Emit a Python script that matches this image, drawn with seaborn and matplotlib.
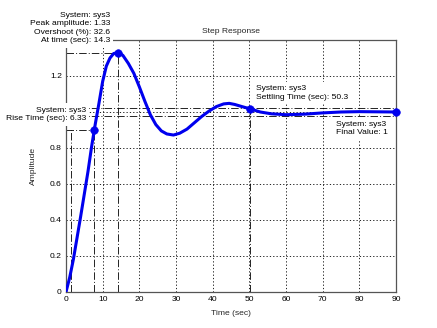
import numpy as np
import pandas as pd
import matplotlib
matplotlib.use("Agg")
import matplotlib.pyplot as plt
import seaborn as sns

# ---- data ----
time_s = [0, 1, 2, 3, 4, 5, 6, 7, 8, 9, 10, 11, 12, 13, 14.3, 15.5, 17, 18.5, 20,
          21.5, 23, 24.5, 26, 27.5, 29.3, 31, 33, 35, 37, 39, 41, 43, 44.5, 46, 48,
          50.3, 53, 56, 60, 65, 70, 75, 80, 85, 90]
amplitude = [0, 0.08, 0.18, 0.30, 0.42, 0.545, 0.67, 0.81, 0.935, 1.05, 1.17, 1.255,
             1.30, 1.325, 1.33, 1.315, 1.27, 1.215, 1.14, 1.06, 0.985, 0.93, 0.895,
             0.878, 0.872, 0.882, 0.905, 0.94, 0.975, 1.005, 1.03, 1.045, 1.048,
             1.042, 1.03, 1.017, 1.0, 0.99, 0.985, 0.988, 0.995, 1.0, 1.002, 1.001, 1.0]

rise_t10, rise_t90, rise_level = 1.37, 7.7, 0.9
peak_time, peak_amp = 14.3, 1.33
settle_time, settle_amp = 50.3, 1.017
settle_band = [0.98, 1.02]
final_time, final_value = 90, 1.0

marker_t = [rise_t90, peak_time, settle_time, final_time]
marker_y = [rise_level, peak_amp, settle_amp, final_value]

xticks = [0, 10, 20, 30, 40, 50, 60, 70, 80, 90]
yticks = [0, 0.2, 0.4, 0.6, 0.8, 1.0, 1.2]
# the "1" label is hidden behind the rise-time datatip in the reference
ytick_labels = ["0", "0.2", "0.4", "0.6", "0.8", "", "1.2"]

tip_peak = "System: sys3\nPeak amplitude: 1.33\nOvershoot (%): 32.6\nAt time (sec): 14.3"
tip_rise = "System: sys3\nRise Time (sec): 6.33"
tip_settle = "System: sys3\nSettling Time (sec): 50.3"
tip_final = "System: sys3\nFinal Value: 1"

# ---- plotting ----
sns.set_theme(style="white")
plt.rcParams["font.family"] = ["Liberation Sans", "DejaVu Sans"]
FS = 6.1

W, H = 437, 328
fig = plt.figure(figsize=(W / 100, H / 100), dpi=100)
ax = fig.add_axes([66 / W, 1 - 292 / H, (396 - 66) / W, (292 - 40) / H])

df = pd.DataFrame({"t": time_s, "y": amplitude})
mk = pd.DataFrame({"t": marker_t, "y": marker_y})

dashdot = (0, (9, 2.5, 1.2, 2.5))
lc = "black"
lw = 0.6
# characteristic lines
ax.plot([rise_t10, rise_t10], [0, rise_level], color=lc, lw=lw, ls=dashdot, zorder=2)
ax.plot([rise_t90, rise_t90], [0, rise_level], color=lc, lw=lw, ls=dashdot, zorder=2)
ax.plot([0, rise_t90], [rise_level, rise_level], color=lc, lw=lw, ls=dashdot, zorder=2)
ax.plot([peak_time, peak_time], [0, peak_amp], color=lc, lw=lw, ls=dashdot, zorder=2)
ax.plot([0, peak_time], [peak_amp, peak_amp], color=lc, lw=lw, ls=dashdot, zorder=2)
ax.plot([settle_time, settle_time], [0, settle_amp], color=lc, lw=lw, ls=dashdot, zorder=2)
for b in settle_band:
    ax.plot([0, 90], [b, b], color=lc, lw=lw, ls=dashdot, zorder=2)

sns.lineplot(data=df, x="t", y="y", ax=ax, color="#0000ee", lw=2.2, zorder=4)
sns.scatterplot(data=mk, x="t", y="y", ax=ax, color="#0000ee", s=30,
                edgecolor="#0000ee", zorder=5, clip_on=False)

ax.set_xlim(0, 90)
ax.set_ylim(0, 1.4)
ax.set_xticks(xticks)
ax.set_xticklabels([str(v) for v in xticks])
ax.set_yticks(yticks)
ax.set_yticklabels(ytick_labels)
ax.grid(True, color="black", ls=(0, (1.5, 2.5)), lw=0.6)
ax.tick_params(axis="both", direction="in", length=3, width=0.6, labelsize=FS,
               colors="black", pad=3)
for s in ax.spines.values():
    s.set_visible(True)
    s.set_color("#555555")
    s.set_linewidth(0.9)

ax.set_xlabel("Time (sec)", fontsize=FS, labelpad=5)
ax.set_ylabel("Amplitude", fontsize=FS, labelpad=9)
ax.set_title("Step Response", fontsize=FS, pad=5)

def tip(txt, px, py, ha):
    fig.text(px / W, 1 - py / H, txt, ha=ha, va="center", fontsize=FS,
             linespacing=1.3, color="black",
             bbox=dict(facecolor="white", edgecolor="none", pad=2.5), zorder=10)

tip(tip_peak, 110, 28, "right")
tip(tip_rise, 86, 114.5, "right")
tip(tip_settle, 256, 93, "left")
tip(tip_final, 336, 128.5, "left")

fig.savefig("out.png", dpi=100, facecolor="white")
